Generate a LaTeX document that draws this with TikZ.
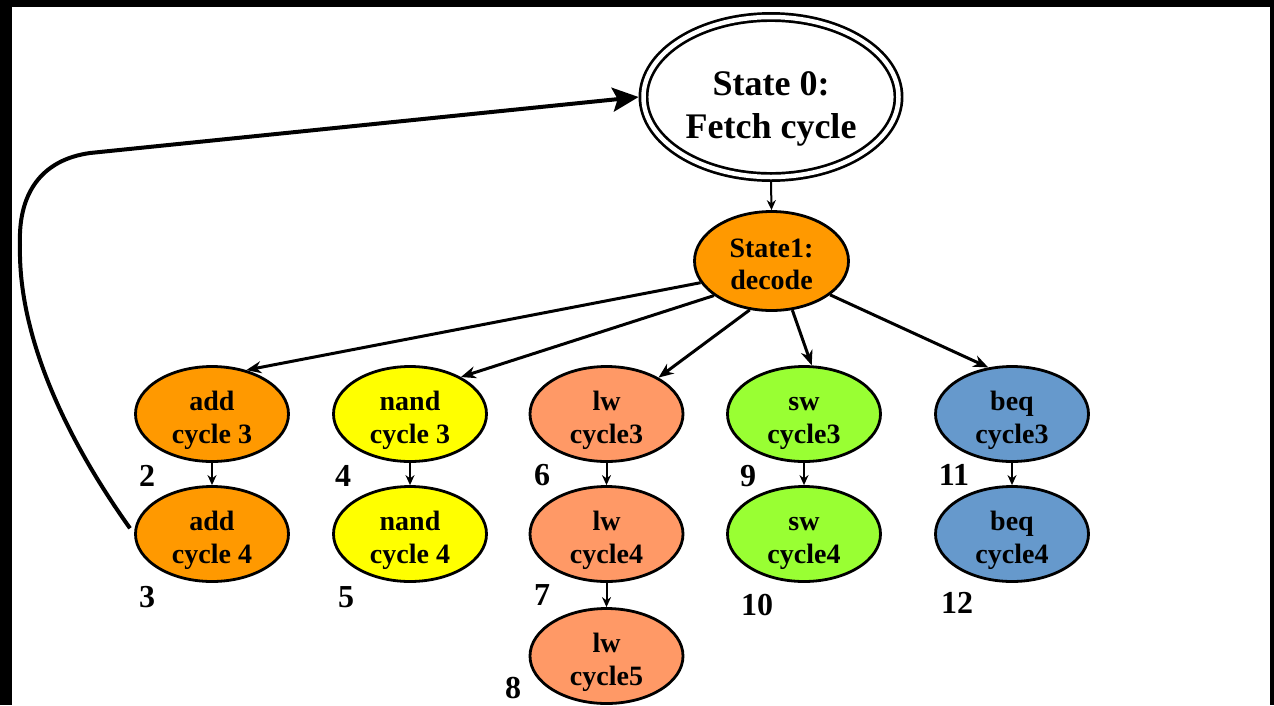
\documentclass[tikz,border=0pt]{standalone}
\usepackage{fontspec}
\setmainfont{Liberation Serif}
\usetikzlibrary{shapes.geometric,arrows.meta}

\definecolor{addorange}{RGB}{255,153,0}
\definecolor{nandyellow}{RGB}{255,255,0}
\definecolor{lwsalmon}{RGB}{255,153,102}
\definecolor{swgreen}{RGB}{153,255,51}
\definecolor{beqblue}{RGB}{102,153,204}

% two centred lines, lowered by #1 without changing the box size
\newcommand{\twolines}[3]{\raisebox{-#1}[\height][\depth]{\begin{tabular}{@{}c@{}}#2\\#3\end{tabular}}}

\tikzset{
  cyclestate/.style={ellipse, draw, line width=2.8pt, inner sep=-40pt,
    minimum width=153pt, minimum height=95pt,
    font=\fontsize{28}{33}\selectfont\bfseries},
  decodestate/.style={cyclestate, minimum width=154pt, minimum height=99pt,
    font=\fontsize{28}{32}\selectfont\bfseries},
  fetchstate/.style={ellipse, draw, double, line width=2.7pt, double distance=4.5pt,
    outer sep=4.95pt, inner sep=-40pt, minimum width=255pt, minimum height=160pt,
    font=\fontsize{36}{43}\selectfont\bfseries},
  numlabel/.style={inner sep=0pt, font=\fontsize{32}{38}\selectfont\bfseries},
  flow/.style={-{Stealth[length=15pt,width=12pt]}, line width=3pt},
  nextcycle/.style={-{Stealth[length=10pt,width=9pt]}, line width=2pt},
  loopback/.style={-{Stealth[length=26pt,width=24pt,inset=5pt]}, line width=4pt},
}

\begin{document}
\begin{tikzpicture}[x=1pt, y=-1pt]
  % frame
  \fill[black] (0,0) rectangle (1274,705);
  \fill[white] (12,7) rectangle (1270,705);
  \useasboundingbox (0,0) rectangle (1274,705);

  % states
  \node[fetchstate] (s0) at (771,97) {\twolines{11pt}{State 0:}{Fetch cycle}};
  \node[decodestate, fill=addorange] (s1) at (771.5,261) {\twolines{6pt}{State1:}{decode}};

  \node[cyclestate, fill=addorange]  (add3)  at (212,414)   {\twolines{6pt}{add}{cycle 3}};
  \node[cyclestate, fill=addorange]  (add4)  at (212,534)   {\twolines{6pt}{add}{cycle 4}};
  \node[cyclestate, fill=nandyellow] (nand3) at (410,414)   {\twolines{6pt}{nand}{cycle 3}};
  \node[cyclestate, fill=nandyellow] (nand4) at (410,534)   {\twolines{6pt}{nand}{cycle 4}};
  \node[cyclestate, fill=lwsalmon]   (lw3)   at (606.5,414) {\twolines{6pt}{lw}{cycle3}};
  \node[cyclestate, fill=lwsalmon]   (lw4)   at (606.5,534) {\twolines{6pt}{lw}{cycle4}};
  \node[cyclestate, fill=lwsalmon]   (lw5)   at (606.5,656) {\twolines{6pt}{lw}{cycle5}};
  \node[cyclestate, fill=swgreen]    (sw3)   at (804,414)   {\twolines{6pt}{sw}{cycle3}};
  \node[cyclestate, fill=swgreen]    (sw4)   at (804,534)   {\twolines{6pt}{sw}{cycle4}};
  \node[cyclestate, fill=beqblue]    (beq3)  at (1012,414)  {\twolines{6pt}{beq}{cycle3}};
  \node[cyclestate, fill=beqblue]    (beq4)  at (1012,534)  {\twolines{6pt}{beq}{cycle4}};

  % state numbers
  \node[numlabel] (n2)  at (147,476) {2};
  \node[numlabel] (n3)  at (147,597) {3};
  \node[numlabel] (n4)  at (343,476) {4};
  \node[numlabel] (n5)  at (346,597) {5};
  \node[numlabel] (n6)  at (542,475) {6};
  \node[numlabel] (n7)  at (542,595) {7};
  \node[numlabel] (n8)  at (513,688) {8};
  \node[numlabel] (n9)  at (748,476) {9};
  \node[numlabel] (n10) at (757,605) {10};
  \node[numlabel] (n11) at (954,475) {11};
  \node[numlabel] (n12) at (957,603) {12};

  % transitions
  \draw[nextcycle] (s0.south) -- (s1.north);
  \draw[flow] (s1.197) -- (add3.52);
  \draw[flow] (s1.211) -- (nand3.36);
  \draw[flow] (s1.246) -- (lw3.35);
  \draw[flow] (s1.293) -- (sw3.81);
  \draw[flow] (s1.330) -- (beq3.117);

  \draw[nextcycle] (add3.south)  -- (add4.north);
  \draw[nextcycle] (nand3.south) -- (nand4.north);
  \draw[nextcycle] (lw3.south)   -- (lw4.north);
  \draw[nextcycle] (lw4.south)   -- (lw5.north);
  \draw[nextcycle] (sw3.south)   -- (sw4.north);
  \draw[nextcycle] (beq3.south)  -- (beq4.north);

  % back to fetch
  \draw[loopback, shorten <=7pt] (add4.west)
    .. controls (60,430) and (18,330) .. (20,245)
    .. controls (18,195) and (40,160) .. (90,153)
    -- (s0.west);
\end{tikzpicture}
\end{document}
